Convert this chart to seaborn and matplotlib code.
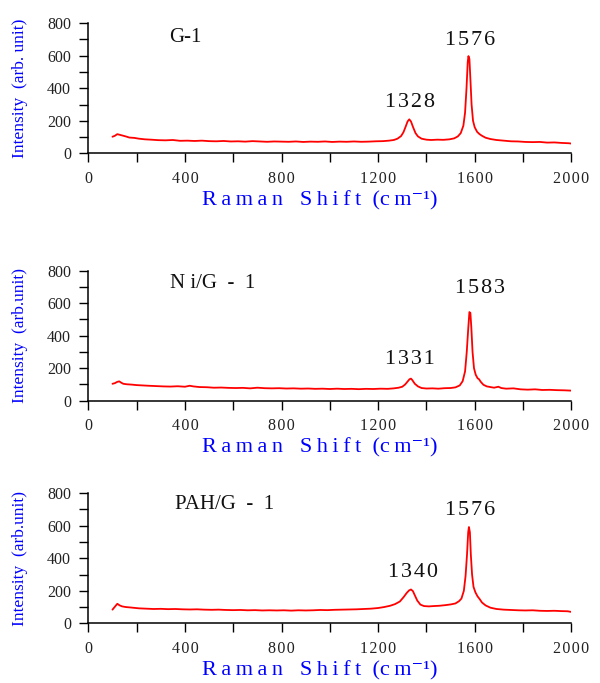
import matplotlib
matplotlib.use("Agg")
import matplotlib.pyplot as plt
from matplotlib.ticker import MultipleLocator, FuncFormatter
import seaborn as sns

# Raman spectra (cm-1, arb. unit)
shift_g1 = [100, 110, 120, 130, 140, 155, 170, 190, 210, 235, 260, 290, 320, 350, 380, 410, 440, 470,
            500, 530, 560, 590, 620, 650, 680, 710, 740, 770, 800, 830, 860, 890, 920, 950, 980, 1010,
            1040, 1070, 1100, 1130, 1160, 1190, 1220, 1245, 1265, 1280, 1295, 1305, 1315, 1322, 1329,
            1336, 1345, 1355, 1365, 1380, 1400, 1420, 1445, 1470, 1495, 1515, 1530, 1542, 1553, 1560,
            1566, 1571, 1574, 1578, 1582, 1587, 1593, 1600, 1610, 1620, 1630, 1645, 1665, 1690, 1720,
            1750, 1780, 1810, 1840, 1870, 1900, 1930, 1960, 1990, 2000]
int_g1 = [102, 108, 118, 114, 110, 104, 97, 95, 90, 86, 84, 81, 80, 82, 77, 78, 76, 78,
          75, 74, 76, 73, 74, 72, 75, 73, 71, 73, 72, 71, 73, 70, 72, 71, 73, 70,
          72, 71, 73, 71, 72, 74, 75, 78, 82, 90, 106, 130, 168, 196, 209,
          196, 160, 124, 104, 90, 84, 82, 84, 83, 86, 92, 104, 124, 170, 250,
          400, 560, 598, 580, 460, 300, 200, 160, 132, 118, 108, 96, 88, 82, 78,
          74, 73, 70, 69, 70, 66, 67, 64, 62, 60]

shift_ni = [100, 110, 120, 128, 135, 145, 160, 180, 200, 225, 250, 280, 310, 340, 370, 400, 420, 435,
            460, 490, 520, 550, 580, 610, 640, 670, 700, 730, 760, 790, 820, 850, 880, 910, 940, 970,
            1000, 1030, 1060, 1090, 1120, 1150, 1180, 1210, 1240, 1265, 1285, 1300, 1312, 1322, 1330,
            1336, 1342, 1352, 1365, 1380, 1400, 1425, 1450, 1475, 1500, 1520, 1538, 1550, 1560, 1567,
            1573, 1578, 1582, 1586, 1591, 1597, 1604, 1612, 1618, 1625, 1636, 1650, 1665, 1680, 1698,
            1710, 1730, 1760, 1790, 1820, 1850, 1880, 1910, 1940, 1970, 2000]
int_ni = [104, 108, 116, 119, 112, 104, 101, 99, 96, 94, 92, 90, 88, 87, 89, 86, 92, 88,
          84, 83, 80, 81, 79, 78, 79, 76, 80, 77, 76, 77, 75, 76, 74, 75, 73, 74,
          72, 74, 72, 73, 71, 73, 72, 74, 73, 76, 80, 86, 100, 118, 132,
          136, 126, 104, 88, 78, 75, 76, 74, 77, 78, 82, 94, 120, 180, 300,
          440, 545, 540, 450, 300, 200, 160, 138, 132, 116, 98, 88, 84, 80, 86,
          78, 74, 76, 70, 68, 70, 66, 67, 65, 64, 62]

shift_pah = [100, 110, 120, 130, 140, 155, 170, 190, 210, 240, 270, 300, 330, 360, 390, 420, 450, 480,
             510, 540, 570, 600, 630, 660, 690, 720, 750, 780, 810, 840, 870, 900, 930, 960, 990, 1020,
             1050, 1080, 1110, 1140, 1170, 1200, 1225, 1250, 1270, 1290, 1305, 1318, 1328, 1336, 1344,
             1352, 1362, 1375, 1390, 1410, 1430, 1455, 1480, 1500, 1520, 1535, 1545, 1555, 1562, 1568,
             1573, 1576, 1580, 1584, 1589, 1595, 1603, 1612, 1620, 1630, 1645, 1665, 1690, 1720, 1750,
             1780, 1810, 1840, 1870, 1900, 1930, 1960, 1985, 2000]
int_pah = [84, 102, 120, 110, 104, 100, 98, 95, 92, 90, 88, 89, 87, 88, 86, 85, 86, 84,
           83, 84, 82, 81, 82, 80, 81, 79, 80, 79, 80, 78, 80, 79, 80, 82, 81, 83,
           84, 85, 86, 88, 90, 94, 100, 108, 118, 134, 160, 186, 202, 208, 198,
           172, 140, 115, 106, 104, 106, 108, 112, 116, 122, 136, 152, 200, 290, 420,
           560, 592, 560, 420, 300, 224, 190, 165, 150, 128, 110, 96, 88, 84, 82,
           80, 79, 80, 77, 76, 77, 75, 74, 70]

samples = ["G-1", "N i/G  -  1", "PAH/G  -  1"]
ylabels = ["Intensity  (arb. unit)", "Intensity  (arb.unit)", "Intensity  (arb.unit)"]
peak_labels = [["1328", "1576"], ["1331", "1583"], ["1340", "1576"]]
label_pos = [[(1332, 315), (1580, 696)], [(1332, 253), (1622, 689)], [(1344, 313), (1580, 693)]]
name_pos = [(400, 714), (516, 719), (566, 731)]

spectra = [(shift_g1, int_g1), (shift_ni, int_ni), (shift_pah, int_pah)]

ts = "\u2009"
hs = "\u200a"
xlabel = ts.join("Raman") + "   " + ts.join("Shift") + "  (c" + ts + "m\u207b\u00b9)"
spaced = FuncFormatter(lambda v, p: hs.join(str(int(v))))

sns.set_style("ticks")
plt.rcParams["font.family"] = ["Liberation Serif", "DejaVu Serif"]

fig = plt.figure(figsize=(6, 6.83), dpi=100)
bottoms = [0.7755, 0.4133, 0.0874]

for i, (x, y) in enumerate(spectra):
    ax = fig.add_axes([0.1472, bottoms[i], 0.805, 0.1905])
    sns.lineplot(x=x, y=y, ax=ax, color="red", linewidth=1.3)
    ax.set_xlim(0, 2000)
    ax.set_ylim(0, 800)
    ax.xaxis.set_major_locator(MultipleLocator(400))
    ax.xaxis.set_minor_locator(MultipleLocator(200))
    ax.xaxis.set_major_formatter(spaced)
    ax.yaxis.set_major_locator(MultipleLocator(200))
    ax.yaxis.set_minor_locator(MultipleLocator(100))
    ax.tick_params(which="both", direction="out", length=6.5, width=1.0, color="black",
                   labelsize=11.5, pad=6, labelcolor="#222222")
    for s in ["left", "bottom"]:
        ax.spines[s].set_linewidth(1.1)
        ax.spines[s].set_color("black")
    sns.despine(ax=ax)

    ax.set_ylabel(ylabels[i], color="blue", fontsize=12.5)
    ax.yaxis.set_label_coords(-0.125, 0.5)
    ax.set_xlabel(xlabel, color="blue", fontsize=16)
    ax.xaxis.set_label_coords(0.48, -0.29)

    ax.text(name_pos[i][0], name_pos[i][1], samples[i], fontsize=15, ha="center", va="center",
            color="#111111")
    for lab, (px, py) in zip(peak_labels[i], label_pos[i]):
        ax.text(px, py, hs.join(lab), fontsize=16, ha="center", va="center", color="#111111")

fig.savefig("out.png", dpi=100)
